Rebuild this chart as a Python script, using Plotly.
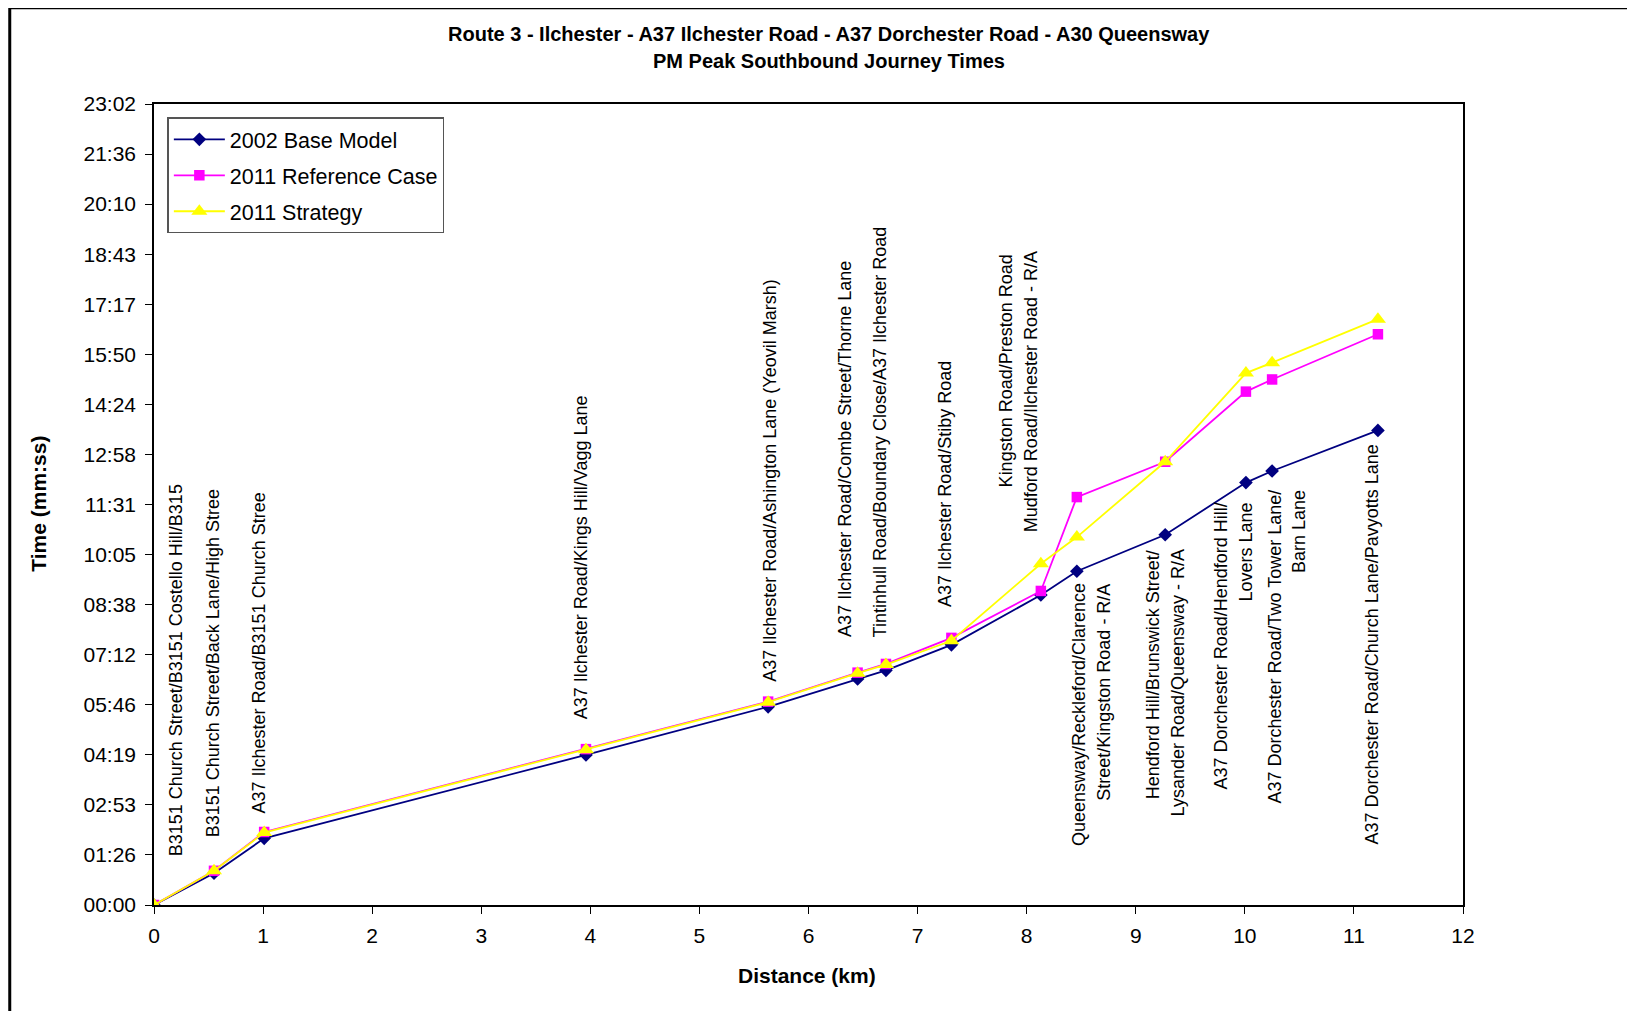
import plotly.graph_objects as go

# ---------------- data ----------------
distance_km = [0, 0.55, 1.01, 3.96, 5.63, 6.45, 6.71, 7.31, 8.13, 8.46, 9.27, 10.01, 10.25, 11.22]
base_2002_s = [0, 55, 115, 259, 342, 390, 405, 449, 535, 576, 639, 729, 749, 819]
ref_2011_s = [0, 59, 126, 269, 351, 401, 416, 461, 542, 704, 765, 886, 907, 985]
strategy_2011_s = [0, 59, 125, 268, 350, 400, 415, 456, 589, 635, 765, 918, 936, 1011]

series_names = ["2002 Base Model", "2011 Reference Case", "2011 Strategy"]

y_tick_text = ["00:00", "01:26", "02:53", "04:19", "05:46", "07:12", "08:38", "10:05",
               "11:31", "12:58", "14:24", "15:50", "17:17", "18:43", "20:10", "21:36", "23:02"]
x_tick_vals = list(range(0, 13))

stop_labels = [
    "B3151 Church Street/B3151 Costello Hill/B315",
    "B3151 Church Street/Back Lane/High Stree",
    "A37 Ilchester Road/B3151 Church Stree",
    "A37 Ilchester Road/Kings Hill/Vagg Lane",
    "A37 Ilchester Road/Ashington Lane (Yeovil Marsh)",
    "A37 Ilchester Road/Combe Street/Thorne Lane",
    "Tintinhull Road/Boundary Close/A37 Ilchester Road",
    "A37 Ilchester Road/Stiby Road",
    "Kingston Road/Preston Road",
    "Mudford Road/Ilchester Road - R/A",
    "Queensway/Reckleford/Clarence",
    "Street/Kingston Road - R/A",
    "Hendford Hill/Brunswick Street/",
    "Lysander Road/Queensway - R/A",
    "A37 Dorchester Road/Hendford Hill/",
    "Lovers Lane",
    "A37 Dorchester Road/Two Tower Lane/",
    "Barn Lane",
    "A37 Dorchester Road/Church Lane/Pavyotts Lane",
]

# ---------------- layout of the labels (position in axis units, anchor) ----------------
label_layout = [
    (0.205, 82.9, "bottom"),
    (0.541, 115.2, "bottom"),
    (0.963, 155.4, "bottom"),
    (3.918, 319.4, "bottom"),
    (5.651, 383.3, "bottom"),
    (6.332, 460.5, "bottom"),
    (6.653, 460.5, "bottom"),
    (7.249, 512.3, "bottom"),
    (7.808, 719.4, "bottom"),
    (8.035, 641.7, "bottom"),
    (8.480, 556.5, "top"),
    (8.706, 556.5, "top"),
    (9.158, 614.6, "top"),
    (9.388, 614.6, "top"),
    (9.785, 696.3, "top"),
    (10.015, 696.3, "top"),
    (10.274, 718.2, "top"),
    (10.503, 718.2, "top"),
    (11.161, 103.6, "bottom"),
]

FONT = "Arial, Liberation Sans, sans-serif"
Y_STEP = 86.4
y_tick_vals = [i * Y_STEP for i in range(len(y_tick_text))]

styles = [
    dict(color="#000080", symbol="diamond", size=10.5),
    dict(color="#FF00FF", symbol="square", size=10.5),
    dict(color="#FFFF00", symbol="triangle-up", size=14),
]
series_values = [base_2002_s, ref_2011_s, strategy_2011_s]

fig = go.Figure()
for name, vals, st in zip(series_names, series_values, styles):
    fig.add_trace(go.Scatter(
        x=distance_km, y=vals, name=name, mode="lines+markers",
        legendgroup=name,
        line=dict(color=st["color"], width=1.8),
        marker=dict(color=st["color"], symbol=st["symbol"], size=st["size"],
                    line=dict(width=0)),
    ))

annotations = []
for text, (lx, ly, anc) in zip(stop_labels, label_layout):
    annotations.append(dict(
        x=lx, y=ly, xref="x", yref="y", text=text, showarrow=False,
        textangle=-90, xanchor="center", yanchor=anc,
        font=dict(family=FONT, size=18, color="black"), borderpad=0,
    ))

# titles
annotations += [
    dict(x=0.5154, y=1.0873, xref="paper", yref="paper", showarrow=False,
         text="<b>Route 3 - Ilchester - A37 Ilchester Road - A37 Dorchester Road - A30 Queensway</b>",
         font=dict(family=FONT, size=20, color="black"), xanchor="center", yanchor="middle"),
    dict(x=0.5154, y=1.0534, xref="paper", yref="paper", showarrow=False,
         text="<b>PM Peak Southbound Journey Times</b>",
         font=dict(family=FONT, size=20, color="black"), xanchor="center", yanchor="middle"),
    dict(x=-0.0884, y=0.5013, xref="paper", yref="paper", showarrow=False,
         text="<b>Time (mm:ss)</b>", textangle=-90,
         font=dict(family=FONT, size=21, color="black"), xanchor="center", yanchor="middle"),
    dict(x=0.4986, y=-0.0874, xref="paper", yref="paper", showarrow=False,
         text="<b>Distance (km)</b>",
         font=dict(family=FONT, size=21, color="black"), xanchor="center", yanchor="middle"),
]

shapes = [
    # outer chart frame (top and left edges visible)
    dict(type="line", xref="paper", yref="paper", x0=-0.1102, x1=1.14, y0=1.1203, y1=1.1203,
         line=dict(color="black", width=3)),
    dict(type="line", xref="paper", yref="paper", x0=-0.1102, x1=-0.1102, y0=1.1203, y1=-0.14,
         line=dict(color="black", width=3)),
]

fig.update_layout(
    width=1627, height=1003,
    margin=dict(l=146, r=172, t=96, b=106, pad=0),
    paper_bgcolor="white", plot_bgcolor="white",
    font=dict(family=FONT, size=21, color="black"),
    showlegend=True,
    legend=dict(
        x=0.0102, y=0.9833, xanchor="left", yanchor="top",
        bgcolor="white", bordercolor="#555555", borderwidth=1.5,
        font=dict(family=FONT, size=21.5, color="black"),
        tracegroupgap=5, itemwidth=51, traceorder="grouped",
    ),
    annotations=annotations,
    shapes=shapes,
)
fig.update_xaxes(
    range=[0, 12], tickvals=x_tick_vals, ticks="outside", ticklen=7, tickwidth=1,
    tickcolor="black", showline=True, linecolor="black", linewidth=2, mirror=True,
    showgrid=False, zeroline=False, tickfont=dict(family=FONT, size=21, color="black"),
    ticklabelstandoff=4,
)
fig.update_yaxes(
    range=[0, Y_STEP * (len(y_tick_text) - 1)], tickvals=y_tick_vals, ticktext=y_tick_text,
    ticks="outside", ticklen=7, tickwidth=1, tickcolor="black",
    showline=True, linecolor="black", linewidth=1.5, mirror=True,
    showgrid=False, zeroline=False, tickfont=dict(family=FONT, size=21, color="black"),
    ticklabelstandoff=5,
)

fig.write_html("out.html")
